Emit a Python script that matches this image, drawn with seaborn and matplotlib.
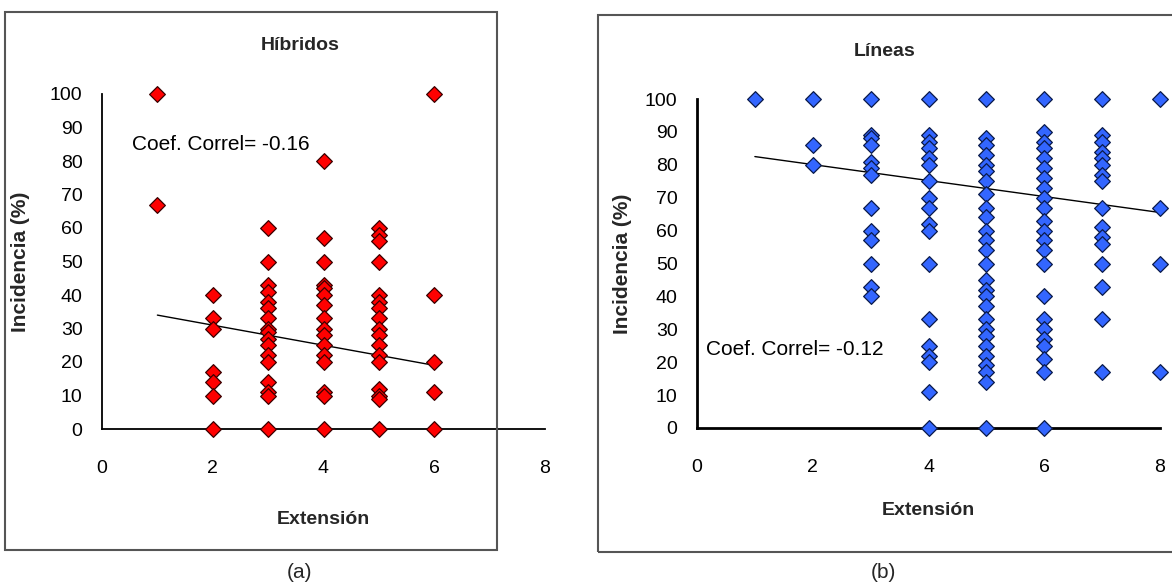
import numpy as np
import pandas as pd
import matplotlib
matplotlib.use("Agg")
import matplotlib.pyplot as plt
from matplotlib.patches import Rectangle
import seaborn as sns

sns.set_style("white")
FONT = ['Liberation Sans', 'DejaVu Sans']
plt.rcParams['font.family'] = FONT

# ---------------- data ----------------
# Híbridos: incidence (%) per extension class
hib_x1 = [100, 67]
hib_x2 = [40, 33, 30, 17, 14, 10, 0]
hib_x3 = [60, 50, 43, 41, 38, 36, 33, 30, 29, 27, 25, 22, 20, 14, 11, 10, 0]
hib_x4 = [80, 57, 50, 43, 42, 40, 37, 33, 30, 28, 25, 22, 20, 11, 10, 0]
hib_x5 = [60, 58, 56, 50, 40, 38, 36, 33, 30, 28, 25, 22, 20, 12, 10, 9, 0]
hib_x6 = [100, 40, 20, 11, 0]
hib_trend_x = [1, 6]
hib_trend_y = [34, 19]

# Líneas
lin_x1 = [100]
lin_x2 = [100, 86, 80]
lin_x3 = [100, 89, 88, 86, 81, 79, 77, 67, 60, 57, 50, 43, 40]
lin_x4 = [100, 89, 87, 85, 82, 80, 75, 70, 67, 62, 60, 50, 33, 25, 22, 20, 11, 0]
lin_x5 = [100, 88, 86, 83, 80, 78, 75, 71, 67, 64, 60, 57, 54, 50, 45, 42, 40,
          37, 33, 30, 28, 25, 22, 19, 17, 14, 0]
lin_x6 = [100, 90, 87, 85, 82, 79, 76, 73, 70, 67, 63, 60, 57, 54, 50, 40, 33,
          30, 27, 25, 21, 17, 0]
lin_x7 = [100, 89, 87, 84, 82, 80, 77, 75, 67, 61, 58, 56, 50, 43, 33, 17]
lin_x8 = [100, 67, 50, 17]
lin_trend_x = [1, 8]
lin_trend_y = [82.5, 65.5]

x_ticks = [0, 2, 4, 6, 8]
y_ticks = [0, 10, 20, 30, 40, 50, 60, 70, 80, 90, 100]
titles = ["Híbridos", "Líneas"]
coef_labels = ["Coef. Correl= -0.16", "Coef. Correl= -0.12"]
xlabel = "Extensión"
ylabel = "Incidencia (%)"
panel_labels = ["(a)", "(b)"]


def to_frame(groups):
    xs, ys = [], []
    for ext, vals in groups:
        xs += [ext] * len(vals)
        ys += list(vals)
    return pd.DataFrame({"Extensión": xs, "Incidencia": ys})


df_hib = to_frame([(1, hib_x1), (2, hib_x2), (3, hib_x3), (4, hib_x4),
                   (5, hib_x5), (6, hib_x6)])
df_lin = to_frame([(1, lin_x1), (2, lin_x2), (3, lin_x3), (4, lin_x4),
                   (5, lin_x5), (6, lin_x6), (7, lin_x7), (8, lin_x8)])

W, H = 1172, 587
fig = plt.figure(figsize=(W / 100, H / 100), dpi=100)
fig.patch.set_facecolor("white")

# panel frames
fig.patches.append(Rectangle((5 / W, 1 - 550 / H), 492 / W, 538 / H,
                             transform=fig.transFigure, fill=False,
                             edgecolor="#555555", linewidth=1.5))
fig.patches.append(Rectangle((598 / W, 1 - 552 / H), 580 / W, 537 / H,
                             transform=fig.transFigure, fill=False,
                             edgecolor="#555555", linewidth=1.5))

ax1 = fig.add_axes([102 / W, 1 - 429 / H, 443 / W, 335 / H])
ax2 = fig.add_axes([697 / W, 1 - 428 / H, 463 / W, 329 / H])

specs = [
    (ax1, df_hib, "#FF0000", "#3a0000", hib_trend_x, hib_trend_y, 1.3, 25),
    (ax2, df_lin, "#3366FF", "#0a1a4a", lin_trend_x, lin_trend_y, 2.0, 19),
]

for i, (ax, df, fc, ec, tx, ty, lw, lp) in enumerate(specs):
    ax.set_facecolor("white")
    sns.lineplot(x=tx, y=ty, ax=ax, color="black", linewidth=1.0, zorder=2)
    sns.scatterplot(data=df, x="Extensión", y="Incidencia", ax=ax, marker="D",
                    s=64, color=fc, edgecolor=ec, linewidth=0.9, zorder=3,
                    clip_on=False)
    ax.set_xlim(0, 8)
    ax.set_ylim(0, 100)
    ax.set_xticks(x_ticks)
    ax.set_yticks(y_ticks)
    ax.tick_params(axis="both", labelsize=14, direction="out", length=5,
                   width=1.2, colors="black")
    ax.tick_params(axis="x", pad=17)
    ax.tick_params(axis="y", pad=9)
    for sp in ["top", "right"]:
        ax.spines[sp].set_visible(False)
    ax.spines["left"].set_linewidth(lw)
    ax.spines["bottom"].set_linewidth(lw)
    ax.spines["left"].set_color("black")
    ax.spines["bottom"].set_color("black")
    ax.set_xlabel(xlabel, fontsize=14, fontweight="bold", labelpad=lp)
    ax.set_ylabel(ylabel, fontsize=15, fontweight="bold", labelpad=8)
    ax.grid(False)

# titles & annotations (figure coordinates)
fig.text(300 / W, 1 - 45 / H, titles[0], ha="center", va="center",
         fontsize=14, fontweight="bold")
fig.text(885 / W, 1 - 52 / H, titles[1], ha="center", va="center",
         fontsize=14, fontweight="bold")
ax1.text(0.55, 85, coef_labels[0], fontsize=15, ha="left", va="center",
         color="black")
ax2.text(0.15, 24, coef_labels[1], fontsize=15, ha="left", va="center",
         color="black")
fig.text(300 / W, 1 - 572 / H, panel_labels[0], ha="center", va="center",
         fontsize=15)
fig.text(883 / W, 1 - 572 / H, panel_labels[1], ha="center", va="center",
         fontsize=15)

# ylabel positions
ax1.yaxis.set_label_coords(-(102 - 30) / 443, 0.5)
ax2.yaxis.set_label_coords(-(697 - 632) / 463, 0.5)

fig.savefig("out.png", dpi=100, facecolor="white")
